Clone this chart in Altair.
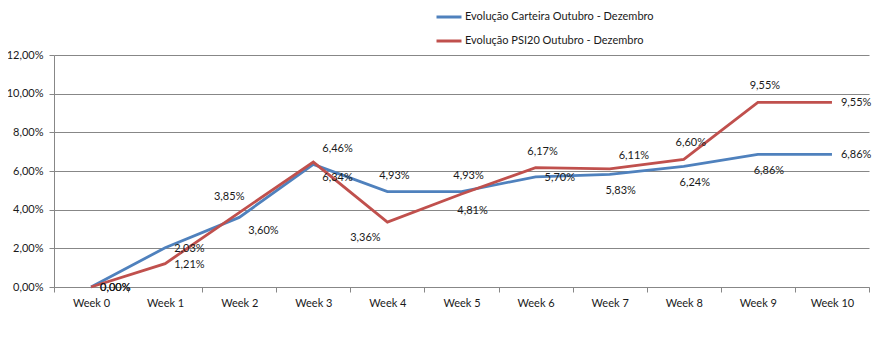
import altair as alt
import pandas as pd

weeks = ["Week 0", "Week 1", "Week 2", "Week 3", "Week 4", "Week 5",
         "Week 6", "Week 7", "Week 8", "Week 9", "Week 10"]
carteira = [0.00, 2.03, 3.60, 6.34, 4.93, 4.93, 5.70, 5.83, 6.24, 6.86, 6.86]
psi20 = [0.00, 1.21, 3.85, 6.46, 3.36, 4.81, 6.17, 6.11, 6.60, 9.55, 9.55]
series_names = ["Evolução Carteira Outubro - Dezembro", "Evolução PSI20 Outubro - Dezembro"]
series_colors = ["#4F81BD", "#C0504D"]
y_ticks = [0, 2, 4, 6, 8, 10, 12]

# label placement category per point (style only)
carteira_label_pos = ["r", "r", "br", "br", "a", "a", "r", "b", "b", "b", "r"]
psi20_label_pos = ["r", "r", "al", "ar", "bl", "b", "a", "ar", "a", "a", "r"]

placements = {
    "r": dict(align="left", dx=9, dy=1),
    "a": dict(align="center", dx=7, dy=-16),
    "ar": dict(align="left", dx=9, dy=-13),
    "al": dict(align="center", dx=-10, dy=-16),
    "b": dict(align="center", dx=11, dy=17),
    "br": dict(align="left", dx=9, dy=14),
    "bl": dict(align="center", dx=-22, dy=16),
}

rows = []
for name, vals, pos in [(series_names[0], carteira, carteira_label_pos),
                        (series_names[1], psi20, psi20_label_pos)]:
    for w, v, p in zip(weeks, vals, pos):
        rows.append({"week": w, "value": v, "series": name, "pos": p})
df = pd.DataFrame(rows)

FONT = "Lato"
TXT = "#1a1a1a"
GRID = "#878787"

x_enc = alt.X(
    "week:N", sort=weeks, bandPosition=0.5,
    scale=alt.Scale(type="band", paddingInner=0, paddingOuter=0),
    axis=alt.Axis(title=None, labelAngle=0, tickBand="extent", grid=False,
                  domainColor=GRID, tickColor=GRID, tickSize=5, labelPadding=5,
                  labelFont=FONT, labelFontSize=11, labelColor=TXT),
)
y_enc = alt.Y(
    "value:Q", scale=alt.Scale(domain=[0, 12], nice=False),
    axis=alt.Axis(title=None, values=y_ticks, grid=True, gridColor=GRID,
                  domainColor=GRID, tickColor=GRID, tickSize=5, labelPadding=6,
                  labelOverlap=False,
                  labelExpr="replace(format(datum.value, '.2f'), '.', ',') + '%'",
                  labelFont=FONT, labelFontSize=11, labelColor=TXT),
)

base = alt.Chart(df)

lines = base.mark_line(strokeWidth=2.8).encode(
    x=x_enc, y=y_enc,
    color=alt.Color(
        "series:N",
        scale=alt.Scale(domain=series_names, range=series_colors),
        legend=alt.Legend(
            title=None, orient="none", legendX=381, legendY=-52,
            symbolType="stroke", symbolSize=625, symbolStrokeWidth=3,
            rowPadding=4, labelOffset=2, labelLimit=400,
            labelFont=FONT, labelFontSize=11, labelColor=TXT,
        ),
    ),
)

layers = [lines]
for key, st in placements.items():
    layers.append(
        base.transform_filter(alt.datum.pos == key)
        .transform_calculate(label="replace(format(datum.value, '.2f'), '.', ',') + '%'")
        .mark_text(font=FONT, fontSize=11, color=TXT, baseline="middle", **st)
        .encode(x=x_enc, y=y_enc, text="label:N")
    )

chart = alt.layer(*layers).properties(
    width=815, height=232,
    autosize=alt.AutoSizeParams(type="none"),
    padding={"left": 46, "top": 47, "right": 3, "bottom": 40},
    background="white",
).configure_view(stroke=None)

chart.save("out.html", embed_options={"renderer": "svg", "actions": False})
